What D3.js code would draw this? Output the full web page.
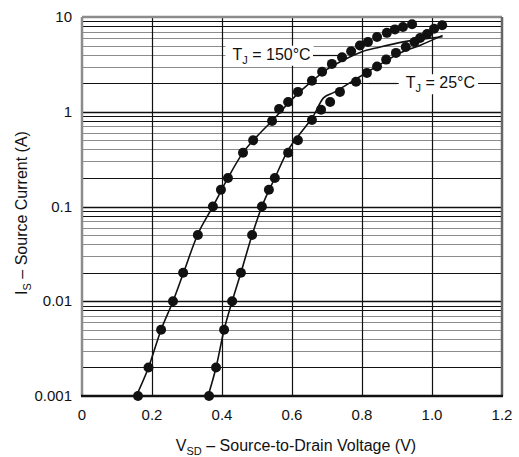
<!DOCTYPE html>
<html>
<head>
<meta charset="utf-8">
<script src="https://cdn.jsdelivr.net/npm/d3@7"></script>
<style>
body { margin: 0; background: #fff; }
text { font-family: "Liberation Sans", Arial, sans-serif; fill: #111; }
</style>
</head>
<body>
<div id="chart"></div>
<script>
// axis ticks
const xTicks = [0, 0.2, 0.4, 0.6, 0.8, 1.0, 1.2];
const xTickLabels = ['0', '0.2', '0.4', '0.6', '0.8', '1.0', '1.2'];
const yTicks = [0.001, 0.01, 0.1, 1, 10];
const yTickLabels = ['0.001', '0.01', '0.1', '1', '10'];

// measured markers, TJ = 150 C
const hotDotV = [0.16, 0.19, 0.226, 0.26, 0.289, 0.331, 0.374, 0.397, 0.417, 0.46, 0.489, 0.543, 0.563,
  0.589, 0.617, 0.657, 0.686, 0.714, 0.743, 0.769, 0.794, 0.817, 0.843, 0.871, 0.894, 0.917, 0.943];
const hotDotI = [0.001, 0.002, 0.005, 0.01, 0.02, 0.05, 0.1, 0.15, 0.2, 0.37, 0.5, 0.8, 1.07,
  1.27, 1.62, 2.12, 2.64, 3.2, 3.75, 4.35, 5.0, 5.46, 6.16, 6.8, 7.4, 7.85, 8.4];

// measured markers, TJ = 25 C
const coldDotV = [0.363, 0.383, 0.406, 0.429, 0.454, 0.486, 0.514, 0.534, 0.551, 0.589, 0.617, 0.657, 0.683,
  0.709, 0.737, 0.783, 0.814, 0.843, 0.869, 0.897, 0.925, 0.95, 0.966, 0.986, 1.006, 1.029];
const coldDotI = [0.001, 0.002, 0.005, 0.01, 0.02, 0.05, 0.1, 0.15, 0.2, 0.37, 0.5, 0.82, 1.05,
  1.27, 1.62, 2.07, 2.57, 3.0, 3.55, 4.18, 4.83, 5.45, 6.0, 6.6, 7.5, 8.2];

// fitted curves
const hotLineV = [0.155, 0.19, 0.226, 0.26, 0.29, 0.33, 0.374, 0.417, 0.46, 0.5, 0.543, 0.6, 0.657, 0.7,
  0.74, 0.8, 0.85, 0.9, 0.95, 1.03];
const hotLineI = [0.001, 0.002, 0.005, 0.01, 0.02, 0.05, 0.1, 0.2, 0.37, 0.55, 0.8, 1.35, 2.1, 2.8,
  3.4, 4.3, 4.8, 5.3, 5.7, 6.2];
const coldLineV = [0.36, 0.383, 0.406, 0.429, 0.454, 0.486, 0.514, 0.551, 0.59, 0.625, 0.66, 0.69, 0.72,
  0.79, 0.86, 0.91, 0.97, 1.03];
const coldLineI = [0.001, 0.002, 0.005, 0.01, 0.02, 0.05, 0.1, 0.2, 0.4, 0.6, 0.89, 1.4, 1.6,
  2.3, 3.3, 4.2, 5.1, 6.4];

const width = 519, height = 457;
const margin = { top: 17, right: 17, bottom: 61, left: 82 };

const svg = d3.select('#chart').append('svg')
  .attr('width', width)
  .attr('height', height);

const x = d3.scaleLinear().domain([0, 1.2]).range([margin.left, width - margin.right]);
const y = d3.scaleLog().domain([0.001, 10]).range([height - margin.bottom, margin.top]);

// horizontal grid: every 1..9 of each decade
const minor = [];
for (let e = -3; e < 1; e++) {
  for (let m = 2; m <= 9; m++) minor.push({ v: m * Math.pow(10, e), m: m });
}
svg.append('g').selectAll('line')
  .data(minor)
  .enter().append('line')
  .attr('x1', x(0)).attr('x2', x(1.2))
  .attr('y1', d => Math.round(y(d.v)) + 0.5)
  .attr('y2', d => Math.round(y(d.v)) + 0.5)
  .attr('stroke', d => (d.m === 2 || d.m >= 8) ? '#111' : '#8c8c8c')
  .attr('stroke-width', 1.2);

svg.append('g').selectAll('line')
  .data(yTicks.slice(1, -1))
  .enter().append('line')
  .attr('x1', x(0)).attr('x2', x(1.2))
  .attr('y1', d => Math.round(y(d)) + 0.5)
  .attr('y2', d => Math.round(y(d)) + 0.5)
  .attr('stroke', '#111')
  .attr('stroke-width', 1.3);

// vertical grid
svg.append('g').selectAll('line')
  .data(xTicks.slice(1, -1))
  .enter().append('line')
  .attr('x1', d => Math.round(x(d)) + 0.5)
  .attr('x2', d => Math.round(x(d)) + 0.5)
  .attr('y1', y(10)).attr('y2', y(0.001))
  .attr('stroke', '#111')
  .attr('stroke-width', 1.2);

// frame
svg.append('line').attr('x1', x(0)).attr('x2', x(1.2)).attr('y1', y(10)).attr('y2', y(10))
  .attr('stroke', '#8c8c8c').attr('stroke-width', 2.5);
svg.append('line').attr('x1', x(0)).attr('x2', x(0)).attr('y1', y(10)).attr('y2', y(0.001))
  .attr('stroke', '#8c8c8c').attr('stroke-width', 2.5);
svg.append('line').attr('x1', x(1.2)).attr('x2', x(1.2)).attr('y1', y(10)).attr('y2', y(0.001))
  .attr('stroke', '#666').attr('stroke-width', 2.5);
svg.append('line').attr('x1', x(0) - 1).attr('x2', x(1.2) + 1).attr('y1', y(0.001)).attr('y2', y(0.001))
  .attr('stroke', '#111').attr('stroke-width', 2.5);

// tick labels
svg.append('g').selectAll('text')
  .data(xTicks)
  .enter().append('text')
  .attr('x', d => x(d))
  .attr('y', y(0.001) + 24)
  .attr('text-anchor', 'middle')
  .style('font-size', '15px')
  .text((d, i) => xTickLabels[i]);

svg.append('g').selectAll('text')
  .data(yTicks)
  .enter().append('text')
  .attr('x', x(0) - 10)
  .attr('y', d => y(d) + 5)
  .attr('text-anchor', 'end')
  .style('font-size', '15px')
  .text((d, i) => yTickLabels[i]);

// axis titles
const xt = svg.append('text')
  .attr('x', 296).attr('y', 451)
  .attr('text-anchor', 'middle')
  .style('font-size', '16px');
xt.append('tspan').text('V');
xt.append('tspan').attr('dy', 4).style('font-size', '11px').text('SD');
xt.append('tspan').attr('dy', -4).text(' \u2013 Source-to-Drain Voltage (V)');

const yt = svg.append('text')
  .attr('transform', 'translate(27,213) rotate(-90)')
  .attr('text-anchor', 'middle')
  .style('font-size', '16px');
yt.append('tspan').text('I');
yt.append('tspan').attr('dy', 4).style('font-size', '11px').text('S');
yt.append('tspan').attr('dy', -4).text(' \u2013 Source Current (A)');

// curves
const line = d3.line()
  .x(d => x(d[0]))
  .y(d => y(d[1]))
  .curve(d3.curveMonotoneX);

svg.append('path')
  .datum(hotLineV.map((v, i) => [v, hotLineI[i]]))
  .attr('d', line)
  .attr('fill', 'none')
  .attr('stroke', '#111')
  .attr('stroke-width', 1.6);

svg.append('path')
  .datum(coldLineV.map((v, i) => [v, coldLineI[i]]))
  .attr('d', line)
  .attr('fill', 'none')
  .attr('stroke', '#111')
  .attr('stroke-width', 1.6);

// markers
svg.append('g').selectAll('circle')
  .data(hotDotV.map((v, i) => [v, hotDotI[i]]))
  .enter().append('circle')
  .attr('cx', d => x(d[0]))
  .attr('cy', d => y(d[1]))
  .attr('r', 5)
  .attr('fill', '#111');

svg.append('g').selectAll('circle')
  .data(coldDotV.map((v, i) => [v, coldDotI[i]]))
  .enter().append('circle')
  .attr('cx', d => x(d[0]))
  .attr('cy', d => y(d[1]))
  .attr('r', 5)
  .attr('fill', '#111');

// curve labels with white boxes and leaders
function curveLabel(tx, ty, sub, rest, lead) {
  const g = svg.append('g');
  const t = g.append('text')
    .attr('x', x(tx)).attr('y', y(ty) + 5)
    .style('font-size', '16px');
  t.append('tspan').text('T');
  t.append('tspan').attr('dy', 4).style('font-size', '11px').text(sub);
  t.append('tspan').attr('dy', -4).text(rest);
  const b = t.node().getBBox();
  g.insert('rect', 'text')
    .attr('x', b.x - 7).attr('y', b.y)
    .attr('width', b.width + 10).attr('height', b.height)
    .attr('fill', '#fff');
  svg.append('line')
    .attr('x1', x(lead[0])).attr('x2', x(lead[1]))
    .attr('y1', Math.round(y(ty)) + 0.5).attr('y2', Math.round(y(ty)) + 0.5)
    .attr('stroke', '#111').attr('stroke-width', 1.2);
}
curveLabel(0.43, 4, 'J', ' = 150\u00b0C', [0.66, 0.745]);
curveLabel(0.925, 2, 'J', ' = 25\u00b0C', [0.82, 0.9]);
</script>
</body>
</html>
